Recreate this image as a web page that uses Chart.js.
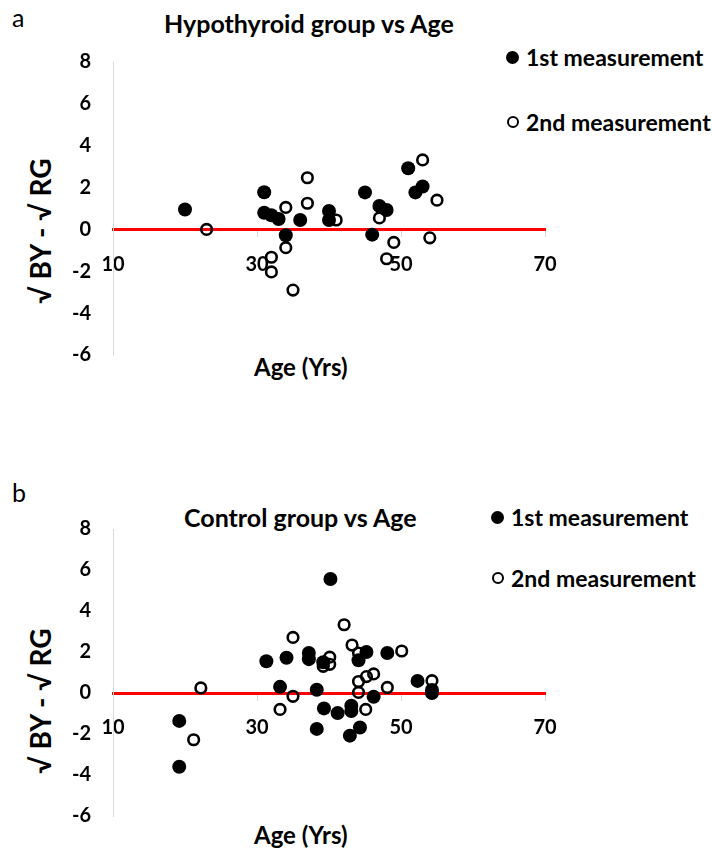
<!DOCTYPE html>
<html>
<head>
<meta charset="utf-8">
<script src="https://cdn.jsdelivr.net/npm/chart.js@4"></script>
<style>
  html, body { margin: 0; padding: 0; background: #fff; }
  body { width: 712px; height: 850px; position: relative; overflow: hidden; font-family: Lato, "Open Sans", sans-serif; color: #000; }
  .abs { position: absolute; white-space: nowrap; }
  .panel-tag { font-size: 25px; font-weight: 400; }
  .ttl { font-size: 25px; font-weight: 700; }
  .leg { font-size: 23px; font-weight: 700; display: flex; align-items: center; }
  .dot { display: inline-block; box-sizing: border-box; border-radius: 50%; margin-right: 7px; }
  .dot.full { width: 13px; height: 13px; background: #000; }
  .dot.ring { width: 12px; height: 12px; border: 2.5px solid #000; background: transparent; }
  .ytitle { font-size: 28px; font-weight: 700; width: 240px; text-align: center; transform: rotate(-90deg); }
  .xtitle { font-size: 24px; font-weight: 700; }
  canvas { position: absolute; left: 0; }
</style>
</head>
<body>

<div class="abs panel-tag" style="left:12px; top:2px;">a</div>
<div class="abs ttl" style="left:164px; top:8px;">Hypothyroid group vs Age</div>
<div class="abs leg" style="left:506px; top:43px;"><span class="dot full"></span><span id="legA1"></span></div>
<div class="abs leg" style="left:507px; top:108px;"><span class="dot ring"></span><span id="legA2"></span></div>
<div class="abs ytitle" style="left:-80px; top:214px;">√ BY - √ RG</div>
<div class="abs xtitle" style="left:254px; top:352px;">Age (Yrs)</div>
<canvas id="chartA" width="712" height="400" style="top:0;"></canvas>

<div class="abs panel-tag" style="left:12px; top:477px;">b</div>
<div class="abs ttl" style="left:184px; top:502px;">Control group vs Age</div>
<div class="abs leg" style="left:491px; top:503px;"><span class="dot full"></span><span id="legB1"></span></div>
<div class="abs leg" style="left:492px; top:564px;"><span class="dot ring"></span><span id="legB2"></span></div>
<div class="abs ytitle" style="left:-80px; top:684px;">√ BY - √ RG</div>
<div class="abs xtitle" style="left:254px; top:820px;">Age (Yrs)</div>
<canvas id="chartB" width="712" height="410" style="top:440px;"></canvas>

<script>
// series labels
const seriesNames = ["1st measurement", "2nd measurement"];

// axis ranges / ticks
const xMin = 10, xMax = 70, xStep = 20;
const yMin = -6, yMax = 8, yStep = 2;

// panel a: hypothyroid group
const ageA1 = [20, 31, 31, 32, 33, 34, 36, 40, 40, 45, 46, 47, 48, 51, 52, 53];
const valA1 = [0.95, 1.78, 0.8, 0.68, 0.5, -0.28, 0.45, 0.88, 0.45, 1.77, -0.25, 1.12, 0.93, 2.92, 1.77, 2.05];
const ageA2 = [23, 32, 32, 34, 34, 35, 37, 37, 41, 47, 48, 49, 53, 54, 55];
const valA2 = [0.0, -1.33, -2.03, 1.05, -0.87, -2.9, 2.47, 1.25, 0.45, 0.55, -1.4, -0.62, 3.32, -0.4, 1.4];

// panel b: control group
const ageB1 = [19.2, 19.2, 31.3, 33.2, 34.1, 37.2, 37.2, 38.3, 38.3, 39.2, 39.3, 40.2, 41.2, 43.1, 43.1, 42.9, 44.1, 44.3, 45.2, 46.2, 48.1, 52.3, 54.3, 54.3];
const valB1 = [-1.36, -3.6, 1.55, 0.3, 1.72, 1.95, 1.65, 0.16, -1.75, 1.5, -0.75, 5.56, -0.98, -0.62, -0.88, -2.08, 1.6, -1.68, 2.0, -0.18, 1.95, 0.59, 0.15, 0.0];
const ageB2 = [21.2, 22.2, 33.2, 35.0, 35.0, 39.2, 40.1, 40.1, 42.1, 43.2, 44.1, 44.1, 44.1, 45.1, 45.2, 46.2, 48.1, 50.1, 54.3];
const valB2 = [-2.28, 0.25, -0.8, 2.71, -0.16, 1.3, 1.75, 1.4, 3.33, 2.34, 1.95, 0.56, 0.03, -0.8, 0.8, 0.93, 0.27, 2.05, 0.6];

const pts = (xs, ys) => xs.map((x, i) => ({ x: x, y: ys[i] }));

["legA1", "legB1"].forEach((id) => (document.getElementById(id).textContent = seriesNames[0]));
["legA2", "legB2"].forEach((id) => (document.getElementById(id).textContent = seriesNames[1]));

const tickFont = { family: "Lato, 'Open Sans', sans-serif", size: 20, weight: "bold" };

function makeChart(id, d1, d2, pad) {
  return new Chart(document.getElementById(id), {
    type: "scatter",
    data: {
      datasets: [
        { label: seriesNames[0], data: d1, pointRadius: 7, pointHoverRadius: 7,
          backgroundColor: "#000", borderColor: "#000", borderWidth: 0 },
        { label: seriesNames[1], data: d2, pointRadius: 5.3, pointHoverRadius: 5.3,
          backgroundColor: "rgba(0,0,0,0)", borderColor: "#000", borderWidth: 2.6 },
      ],
    },
    options: {
      responsive: false,
      animation: false,
      layout: { padding: pad },
      plugins: { legend: { display: false }, title: { display: false }, tooltip: { enabled: false } },
      scales: {
        x: {
          type: "linear",
          position: { y: 0 },
          min: xMin, max: xMax,
          ticks: { stepSize: xStep, color: "#000", font: tickFont, padding: 17 },
          grid: { drawOnChartArea: false, drawTicks: true, tickLength: 6, color: "#d9d9d9" },
          border: { color: "#ff0000", width: 3 },
        },
        y: {
          type: "linear",
          position: "left",
          min: yMin, max: yMax,
          ticks: { stepSize: yStep, color: "#000", font: tickFont, padding: 22 },
          grid: { display: false, drawTicks: false },
          border: { color: "#d9d9d9", width: 1 },
          afterFit: (s) => { s.width = 113; },
        },
      },
    },
  });
}

makeChart("chartA", pts(ageA1, valA1), pts(ageA2, valA2), { left: 0, right: 167, top: 62, bottom: 45 });
makeChart("chartB", pts(ageB1, valB1), pts(ageB2, valB2), { left: 0, right: 167, top: 89, bottom: 29 });
</script>
</body>
</html>
